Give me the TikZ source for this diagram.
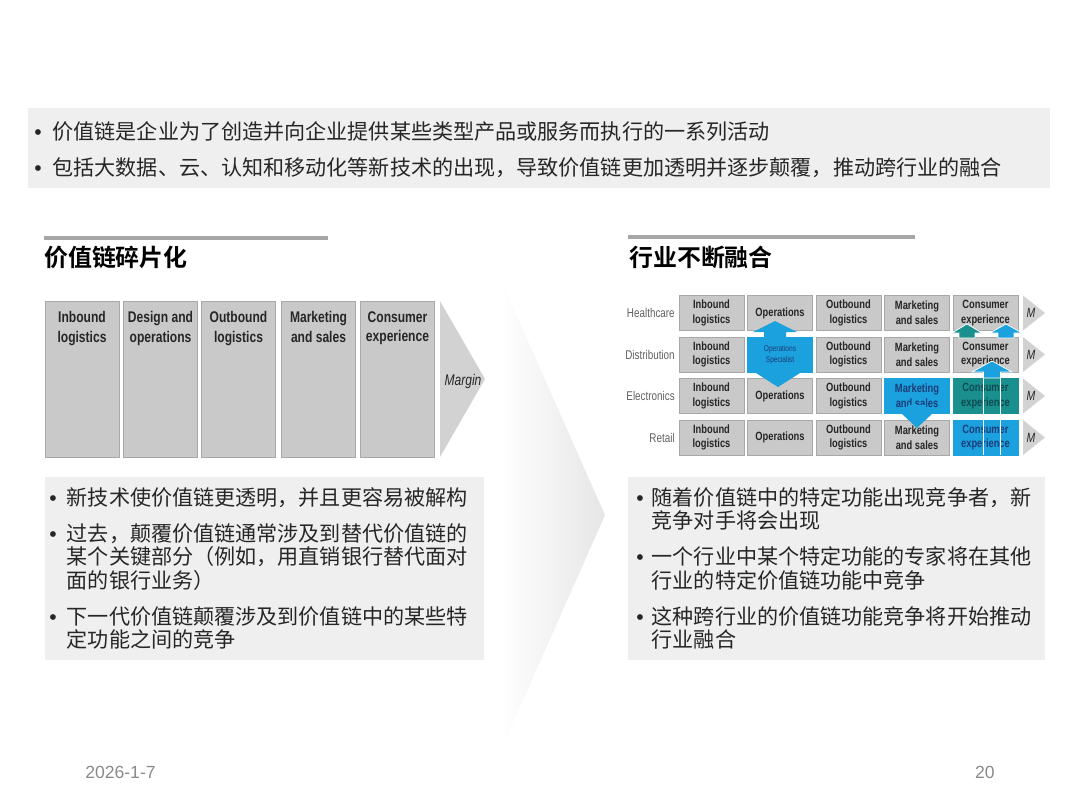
\documentclass[tikz,border=0pt]{standalone}
\usepackage{fontspec}
\setmainfont{Liberation Sans}
\newfontfamily\cjk{Noto Sans CJK SC}[BoldFont={Noto Sans CJK SC Bold}]
\newfontfamily\narrow{Liberation Sans}[FakeStretch=0.78]
\usetikzlibrary{positioning}

\definecolor{bandgray}{HTML}{EFEFEF}
\definecolor{boxgray}{HTML}{C9C9C9}
\definecolor{boxline}{HTML}{A8A8A8}
\definecolor{chevgray}{HTML}{D2D2D2}
\definecolor{opblue}{HTML}{1AA1DE}
\definecolor{tealc}{HTML}{19908E}
\definecolor{navytxt}{HTML}{1C3D78}
\definecolor{tealtxt}{HTML}{0E4A52}
\definecolor{txtdark}{HTML}{262626}
\definecolor{footgray}{HTML}{8A8A8A}

\newcommand{\pxu}{0.025cm}
\newcommand{\bul}[1]{\makebox[#1][l]{\rmfamily\mdseries •}}
% block arrow: style, x, y start, y head base, y tip, shaft half, head half
\newcommand{\blockarr}[7]{%
  \filldraw[#1] (#2-#6,#3) -- (#2-#6,#4) -- (#2-#7,#4) -- (#2,#5)
    -- (#2+#7,#4) -- (#2+#6,#4) -- (#2+#6,#3) -- cycle;}

\begin{document}
\begin{tikzpicture}[x=0.025cm,y=-0.025cm,
  panel/.style={fill=bandgray,draw=none,inner sep=0},
  note/.style={align=left,inner sep=0,text=txtdark,font=\cjk\fontsize{15}{16.7}\selectfont},
  ttl/.style={inner sep=0,font=\cjk\bfseries\fontsize{17}{20}\selectfont},
  tbar/.style={line width=3pt,draw=gray!70},
  lbox/.style={fill=boxgray,draw=boxline,minimum width=74*\pxu,minimum height=156*\pxu,inner sep=0},
  ltxt/.style={anchor=north,align=center,inner sep=0,text=txtdark,font=\narrow\bfseries\fontsize{11}{14}\selectfont},
  gcell/.style={fill=boxgray,draw=boxline,minimum width=65*\pxu,minimum height=35*\pxu,inner sep=0,
    align=center,text=txtdark,font=\narrow\bfseries\fontsize{8.5}{10.5}\selectfont},
  cell 2-2/.style={fill=opblue,draw=opblue,text=navytxt,font=\narrow\fontsize{6}{8}\selectfont},
  cell 3-4/.style={fill=opblue,draw=opblue,text=navytxt},
  cell 3-5/.style={fill=tealc,draw=tealc,text=tealtxt},
  cell 4-5/.style={fill=opblue,draw=opblue,text=navytxt},
  rowlab/.style={anchor=east,inner sep=0,text=gray!75!black,font=\narrow\fontsize{9}{10}\selectfont},
  mlab/.style={inner sep=0,text=txtdark,font=\narrow\itshape\fontsize{9.5}{10}\selectfont},
  arrblue/.style={fill=opblue,draw=none},
  arrwhite/.style={fill=opblue,draw=white,line width=0.5pt},
  arrteal/.style={fill=tealc,draw=white,line width=0.5pt},
  foot/.style={inner sep=0,text=footgray,font=\fontsize{12.5}{14}\selectfont}]
\useasboundingbox (0,0) rectangle (1080,810);

% faint chevron in the middle
\shade[left color=white,right color=gray!20] (500,278) -- (605,515) -- (500,752) -- cycle;

% top band
\node[panel,minimum width=1022*\pxu,minimum height=80*\pxu] (band) at (539,148) {};
\node[note,anchor=north west,font=\cjk\fontsize{15}{25.6}\selectfont] (bandtxt) at (34,121) {%
\bul{13pt}价值链是企业为了创造并向企业提供某些类型产品或服务而执行的一系列活动\\
\bul{13pt}包括大数据、云、认知和移动化等新技术的出现，导致价值链更加透明并逐步颠覆，推动跨行业的融合};

% headings
\draw[tbar] (44,238) -- (328,238);
\node[ttl,anchor=base west] (ltitle) at (44,266) {价值链碎片化};
\draw[tbar] (628,237) -- (915,237);
\node[ttl,anchor=base west] (rtitle) at (629,266) {行业不断融合};

% left value chain
\foreach \x/\t [count=\i] in {82/{Inbound\\logistics},160.5/{Design and\\operations},
    238.5/{Outbound\\logistics},318.5/{Marketing\\and sales},397.5/{Consumer\\experience}} {
  \node[lbox] (lb\i) at (\x,379) {};
  \node[ltxt] (lt\i) at (\x,311) {\t};
}
\fill[chevgray] (440,301) -- (485,379) -- (440,457) -- cycle;
\node[mlab,font=\narrow\itshape\fontsize{11}{13}\selectfont] (margin) at (463,381) {Margin};

% right grid of industries
\foreach \r/\ry/\ind/\op in {1/313/Healthcare/Operations,2/354.5/Distribution/{Operations\\Specialist},
    3/396/Electronics/Operations,4/437.5/Retail/Operations} {
  \node[rowlab] (ind\r) at (675,\ry) {\ind};
  \foreach \c/\cx/\t in {1/711.5/{Inbound\\logistics},2/780/\op,3/848.5/{Outbound\\logistics},
      4/917/{Marketing\\and sales},5/985.5/{Consumer\\experience}}
    \node[gcell,cell \r-\c/.try] (g\r\c) at (\cx,\ry) {\t};
  \fill[chevgray] (1023,\ry-17.5) -- (1045,\ry) -- (1023,\ry+17.5) -- cycle;
  \node[mlab] (m\r) at (1031,\ry) {M};
}

% arrows between cells
\blockarr{arrblue}{775}{345}{332}{321}{11}{22}
\blockarr{arrblue}{778}{365}{373}{387}{11}{22}
\blockarr{arrblue}{917}{405}{413}{428}{9}{16}
\draw[white,line width=0.4pt] (983.5,378) -- (983.5,455) (1000.5,378) -- (1000.5,455);
\blockarr{arrwhite}{992}{378}{372}{361}{8.5}{20}
\blockarr{arrteal}{967}{338}{333}{324}{8}{15}
\blockarr{arrwhite}{1006}{338}{333}{324}{8}{16}

% notes
\node[panel,minimum width=439*\pxu,minimum height=183*\pxu] (lnote) at (264.5,568.5) {};
\node[note,anchor=north west] (lnotetxt) at (49,487) {%
\bul{12.5pt}新技术使价值链更透明，并且更容易被解构\\[8.9pt]
\bul{12.5pt}过去，颠覆价值链通常涉及到替代价值链的\\
\hspace*{12.5pt}某个关键部分（例如，用直销银行替代面对\\
\hspace*{12.5pt}面的银行业务）\\[8.9pt]
\bul{12.5pt}下一代价值链颠覆涉及到价值链中的某些特\\
\hspace*{12.5pt}定功能之间的竞争};

\node[panel,minimum width=417*\pxu,minimum height=183*\pxu] (rnote) at (836.5,568.5) {};
\node[note,anchor=north west] (rnotetxt) at (636,487) {%
\bul{11pt}随着价值链中的特定功能出现竞争者，新\\
\hspace*{11pt}竞争对手将会出现\\[8.9pt]
\bul{11pt}一个行业中某个特定功能的专家将在其他\\
\hspace*{11pt}行业的特定价值链功能中竞争\\[8.9pt]
\bul{11pt}这种跨行业的价值链功能竞争将开始推动\\
\hspace*{11pt}行业融合};

% footer
\node[foot,anchor=base west] (date) at (85,778) {2026-1-7};
\node[foot,anchor=base east] (page) at (995,778) {20};
\end{tikzpicture}
\end{document}
